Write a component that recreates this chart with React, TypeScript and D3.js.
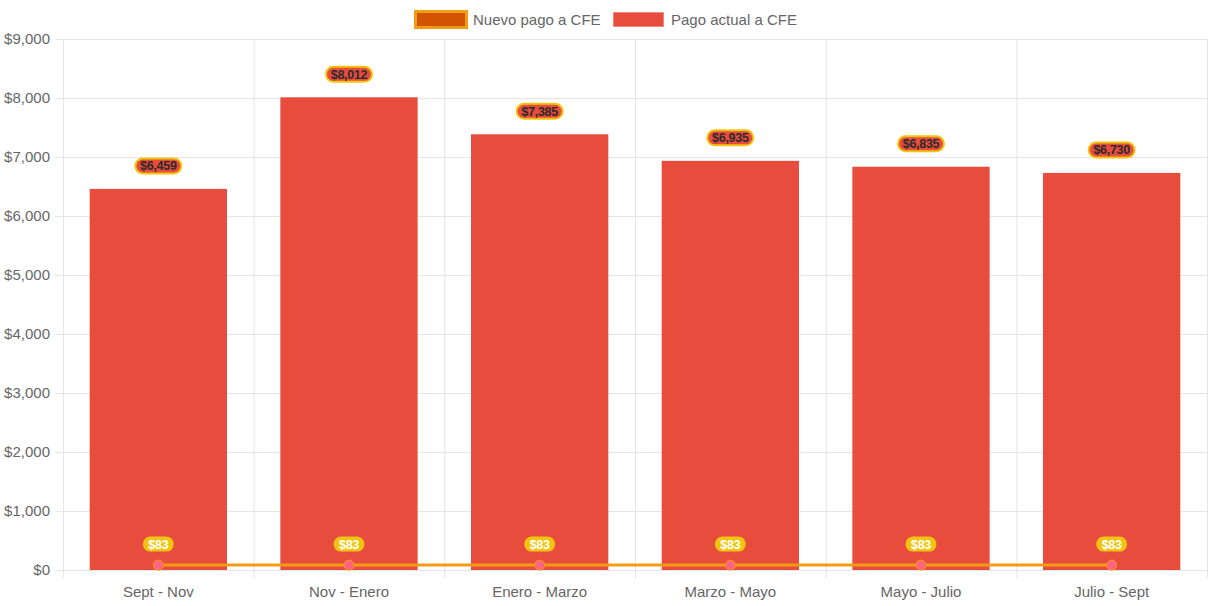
import React from "react";
import * as d3 from "d3";

const categories = ["Sept - Nov", "Nov - Enero", "Enero - Marzo", "Marzo - Mayo", "Mayo - Julio", "Julio - Sept"];
const pagoActual = [6459, 8012, 7385, 6935, 6835, 6730];
const nuevoPago = [83, 83, 83, 83, 83, 83];
const yTicks = [0, 1000, 2000, 3000, 4000, 5000, 6000, 7000, 8000, 9000];

const W = 1213, H = 606;
const left = 63, right = 1207, top = 39, bottom = 570;
const FONT = "Arial, 'Liberation Sans', Helvetica, sans-serif";

export default function App() {
  const x = d3.scaleBand<string>().domain(categories).range([left, right]).paddingInner(0).paddingOuter(0);
  const y = d3.scaleLinear().domain([0, 9000]).range([bottom, top]);
  const bw = x.bandwidth();
  const barW = bw * 0.72;
  const cx = (c: string) => (x(c) as number) + bw / 2;
  const fmt = (v: number) => "$" + d3.format(",")(v);
  const line = d3.line<number>().x((_, i) => cx(categories[i])).y((v) => y(v));
  const gridX = categories.map((c) => x(c) as number).concat([right]);

  return (
    <svg width={W} height={H} style={{ position: "absolute", left: 0, top: 0 }} fontFamily={FONT}>
      <rect width={W} height={H} fill="#fff" />
      {/* horizontal grid */}
      {yTicks.map((t) => (
        <g key={"y" + t}>
          <line x1={55} x2={right} y1={y(t) + 0.5} y2={y(t) + 0.5} stroke="#e5e5e5" strokeWidth={1} />
          <text x={50} y={y(t)} dy="0.35em" textAnchor="end" fontSize={15} fill="#666">{fmt(t)}</text>
        </g>
      ))}
      {/* vertical grid */}
      {gridX.map((gx, i) => (
        <line key={"x" + i} x1={gx + 0.5} x2={gx + 0.5} y1={top} y2={578} stroke="#e5e5e5" strokeWidth={1} />
      ))}
      {categories.map((c) => (
        <text key={"xl" + c} x={cx(c)} y={592} dy="0.35em" textAnchor="middle" fontSize={15} fill="#666">{c}</text>
      ))}
      {/* bars */}
      {categories.map((c, i) => (
        <rect key={"b" + c} x={cx(c) - barW / 2} y={y(pagoActual[i])} width={barW} height={bottom - y(pagoActual[i])} fill="#e74c3c" />
      ))}
      {/* line */}
      <path d={line(nuevoPago) || ""} fill="none" stroke="#f39c12" strokeWidth={3} />
      {categories.map((c, i) => (
        <circle key={"p" + c} cx={cx(c)} cy={y(nuevoPago[i])} r={5} fill="#ff6384" stroke="#f39c12" strokeWidth={1} />
      ))}
      {/* bar labels */}
      {categories.map((c, i) => {
        const ly = y(pagoActual[i]) - 23;
        const txt = fmt(pagoActual[i]);
        const w = 46;
        return (
          <g key={"bl" + c}>
            <rect x={cx(c) - w / 2} y={ly - 7.5} width={w} height={15} rx={7.5} fill="#e74c3c" stroke="#f1c40f" strokeWidth={2} />
            <text x={cx(c)} y={ly} dy="0.36em" textAnchor="middle" fontSize={12.5} fontWeight="bold" fill="#2b2b2b" letterSpacing={-0.3}>{txt}</text>
          </g>
        );
      })}
      {/* line labels */}
      {categories.map((c, i) => {
        const ly = y(nuevoPago[i]) - 21;
        const w = 31;
        return (
          <g key={"ll" + c}>
            <rect x={cx(c) - w / 2} y={ly - 7.5} width={w} height={15} rx={7.5} fill="#f1c40f" />
            <text x={cx(c)} y={ly} dy="0.36em" textAnchor="middle" fontSize={12.5} fontWeight="bold" fill="#fff" letterSpacing={-0.3}>{fmt(nuevoPago[i])}</text>
          </g>
        );
      })}
      {/* legend */}
      <rect x={415.5} y={11.5} width={51} height={16} fill="#d35400" stroke="#f39c12" strokeWidth={3} />
      <text x={473} y={19.5} dy="0.35em" fontSize={15} fill="#666">Nuevo pago a CFE</text>
      <rect x={613.5} y={12.5} width={50} height={14} fill="#e74c3c" stroke="#f08a80" strokeWidth={1} />
      <text x={671} y={19.5} dy="0.35em" fontSize={15} fill="#666">Pago actual a CFE</text>
    </svg>
  );
}
